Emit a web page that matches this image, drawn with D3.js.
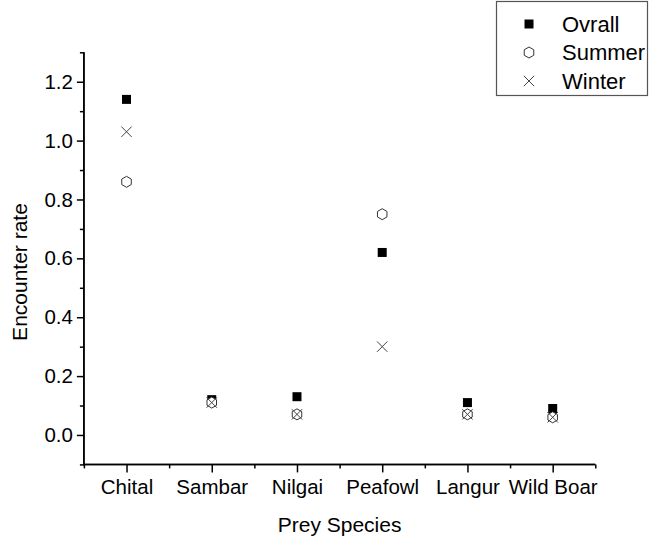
<!DOCTYPE html>
<html>
<head>
<meta charset="utf-8">
<script src="https://cdn.jsdelivr.net/npm/d3@7"></script>
<style>
  html, body { margin: 0; padding: 0; background: #fff; }
  svg { display: block; }
  text { font-family: "Liberation Sans", Arial, sans-serif; fill: #000; }
</style>
</head>
<body>
<svg id="chart" width="650" height="537"></svg>
<script>
const categories = ["Chital", "Sambar", "Nilgai", "Peafowl", "Langur", "Wild Boar"];
const ovrall = [1.14, 0.12, 0.13, 0.62, 0.11, 0.09];
const summer = [0.86, 0.11, 0.07, 0.75, 0.07, 0.06];
const winter = [1.03, 0.11, 0.07, 0.30, 0.07, 0.06];
const yTicks = [0.0, 0.2, 0.4, 0.6, 0.8, 1.0, 1.2];
const yMinorTicks = [-0.1, 0.1, 0.3, 0.5, 0.7, 0.9, 1.1, 1.3];
const seriesNames = ["Ovrall", "Summer", "Winter"];

const svg = d3.select("#chart");
const x = d3.scaleLinear().domain([0.5, 6.5]).range([83.9, 595.3]);
const y = d3.scaleLinear().domain([-0.1, 1.3]).range([464.4, 52.3]);

// Axes
const xMajor = d3.axisBottom(x).tickValues(d3.range(1, 7)).tickSize(8).tickFormat(d => categories[d - 1]).tickPadding(7);
const xMinor = d3.axisBottom(x).tickValues(d3.range(0.5, 7, 1)).tickSize(4).tickFormat("");
const yMajor = d3.axisLeft(y).tickValues(yTicks).tickSize(7).tickFormat(d3.format(".1f")).tickPadding(4);
const yMinor = d3.axisLeft(y).tickValues(yMinorTicks).tickSize(4).tickFormat("");

function styleAxis(g) {
  g.selectAll("path.domain").attr("stroke", "#000").attr("stroke-width", 1.5);
  g.selectAll(".tick line").attr("stroke", "#000").attr("stroke-width", 1.5);
  g.selectAll(".tick text").attr("font-size", "20.5px").attr("font-family", "Liberation Sans, Arial, sans-serif").attr("fill", "#000");
}

const gx = svg.append("g").attr("transform", `translate(0,${y(-0.1)})`);
gx.append("g").call(xMinor).call(styleAxis);
gx.append("g").call(xMajor).call(styleAxis);
gx.selectAll("path.domain").attr("d", `M${x(0.5)},0H${x(6.5)}`);

const gy = svg.append("g").attr("transform", `translate(${x(0.5)},0)`);
gy.append("g").call(yMinor).call(styleAxis);
gy.append("g").call(yMajor).call(styleAxis);
gy.selectAll("path.domain").attr("d", `M0,${y(1.3)}V${y(-0.1) + 1}`);

// Axis titles
svg.append("text")
  .attr("x", (x(0.5) + x(6.5)) / 2)
  .attr("y", 532)
  .attr("text-anchor", "middle")
  .attr("font-size", "21px")
  .text("Prey Species");

svg.append("text")
  .attr("transform", `translate(27,272) rotate(-90)`)
  .attr("text-anchor", "middle")
  .attr("font-size", "21px")
  .text("Encounter rate");

// Symbols
const sq = d3.symbol().type(d3.symbolSquare).size(81);
function hexPath(r) {
  const pts = d3.range(6).map(i => {
    const a = Math.PI / 2 + i * Math.PI / 3;
    return [r * Math.cos(a), r * Math.sin(a)];
  });
  return "M" + pts.map(p => p.join(",")).join("L") + "Z";
}
function crossPath(r) {
  return `M${-r},${-r}L${r},${r}M${-r},${r}L${r},${-r}`;
}

const data = categories.map((c, i) => ({ i: i + 1, o: ovrall[i], s: summer[i], w: winter[i] }));

svg.append("g").selectAll("path").data(data).join("path")
  .attr("transform", d => `translate(${x(d.i)},${y(d.o)})`)
  .attr("d", sq())
  .attr("fill", "#000");

svg.append("g").selectAll("path").data(data).join("path")
  .attr("transform", d => `translate(${x(d.i)},${y(d.s)})`)
  .attr("d", hexPath(5.5))
  .attr("fill", "#fff")
  .attr("stroke", "#333")
  .attr("stroke-width", 1);

svg.append("g").selectAll("path").data(data).join("path")
  .attr("transform", d => `translate(${x(d.i)},${y(d.w)})`)
  .attr("d", crossPath(5.2))
  .attr("fill", "none")
  .attr("stroke", "#444")
  .attr("stroke-width", 1);

// Legend
const legend = svg.append("g");
legend.append("rect")
  .attr("x", 496.5).attr("y", 1.5).attr("width", 151).attr("height", 94)
  .attr("fill", "#fff").attr("stroke", "#555").attr("stroke-width", 1.2);
const legRows = [24, 52.5, 81];
seriesNames.forEach((name, k) => {
  const g = legend.append("g").attr("transform", `translate(529,${legRows[k]})`);
  if (k === 0) g.append("path").attr("d", sq()).attr("fill", "#000");
  if (k === 1) g.append("path").attr("d", hexPath(5.5)).attr("fill", "#fff").attr("stroke", "#333");
  if (k === 2) g.append("path").attr("d", crossPath(5.2)).attr("fill", "none").attr("stroke", "#444");
  legend.append("text")
    .attr("x", 562).attr("y", legRows[k])
    .attr("dy", "0.35em")
    .attr("font-size", "22px")
    .text(name);
});
</script>
</body>
</html>
